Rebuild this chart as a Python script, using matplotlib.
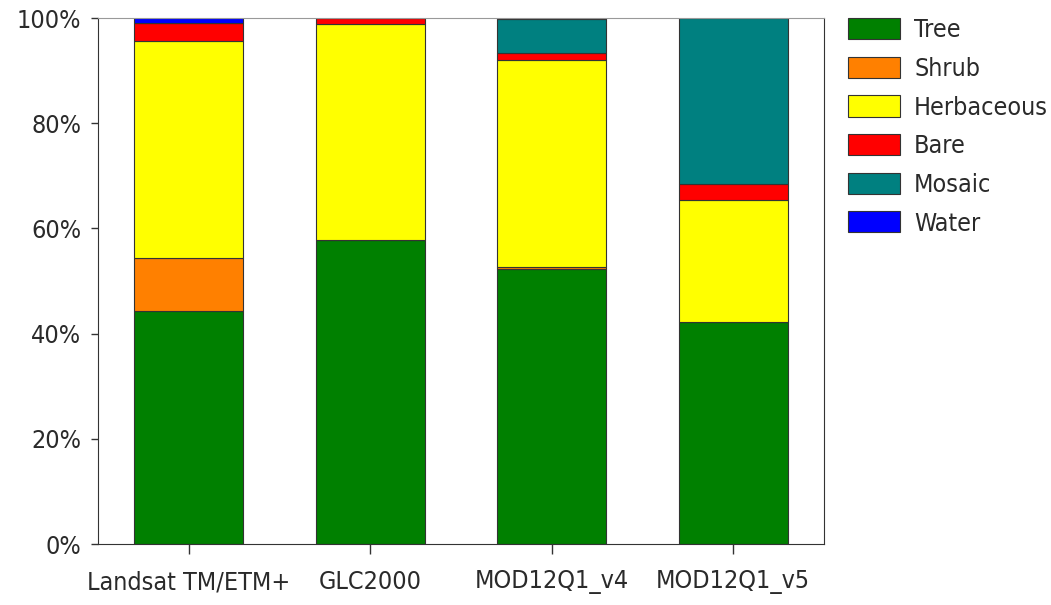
import matplotlib.pyplot as plt
import numpy as np
from matplotlib.ticker import PercentFormatter

products = ['Landsat TM/ETM+', 'GLC2000', 'MOD12Q1_v4', 'MOD12Q1_v5']
classes = ['Tree', 'Shrub', 'Herbaceous', 'Bare', 'Mosaic', 'Water']
colors = ['#008000', '#FF8000', '#FFFF00', '#FF0000', '#008080', '#0000FF']

# percent of area per class, one list per class (same order as products)
tree = [44.3, 57.8, 52.3, 42.2]
shrub = [10.1, 0.0, 0.3, 0.0]
herbaceous = [41.2, 41.1, 39.4, 23.2]
bare = [3.4, 1.1, 1.4, 3.0]
mosaic = [0.0, 0.0, 6.4, 31.6]
water = [1.0, 0.0, 0.2, 0.0]

series = [tree, shrub, herbaceous, bare, mosaic, water]

plt.rcParams['font.family'] = ['DejaVu Sans']
plt.rcParams['font.stretch'] = 'condensed'
fig = plt.figure(figsize=(10.51, 6.05), dpi=100)
ax = fig.add_axes([0.0932, 0.1008, 0.6908, 0.8694])

x = np.arange(len(products))
bottom = np.zeros(len(products))
for name, vals, c in zip(classes, series, colors):
    vals = np.array(vals)
    ax.bar(x, vals, 0.6, bottom=bottom, color=c, edgecolor='#333333',
           linewidth=0.8, label=name)
    bottom += vals

ax.set_xlim(-0.5, 3.5)
ax.set_ylim(0, 100)
ax.set_yticks(np.arange(0, 101, 20))
ax.yaxis.set_major_formatter(PercentFormatter(decimals=0))
ax.set_xticks(x)
ax.set_xticklabels(products)
ax.tick_params(axis='both', labelsize=18, colors='#333333', labelcolor='#2a2a2a',
               width=1)
ax.tick_params(axis='y', length=5, pad=7)
ax.tick_params(axis='x', length=7, pad=12)
for s in ax.spines.values():
    s.set_color('#333333')
ax.spines['top'].set_color('#999999')

leg = fig.legend(loc='upper left', bbox_to_anchor=(0.807, 0.97), frameon=False,
                 fontsize=18, handlelength=2.08, handleheight=0.92, labelspacing=0.58,
                 handletextpad=0.56, borderpad=0, borderaxespad=0)
for t in leg.get_texts():
    t.set_color('#2a2a2a')

fig.savefig('out.png', dpi=100)
